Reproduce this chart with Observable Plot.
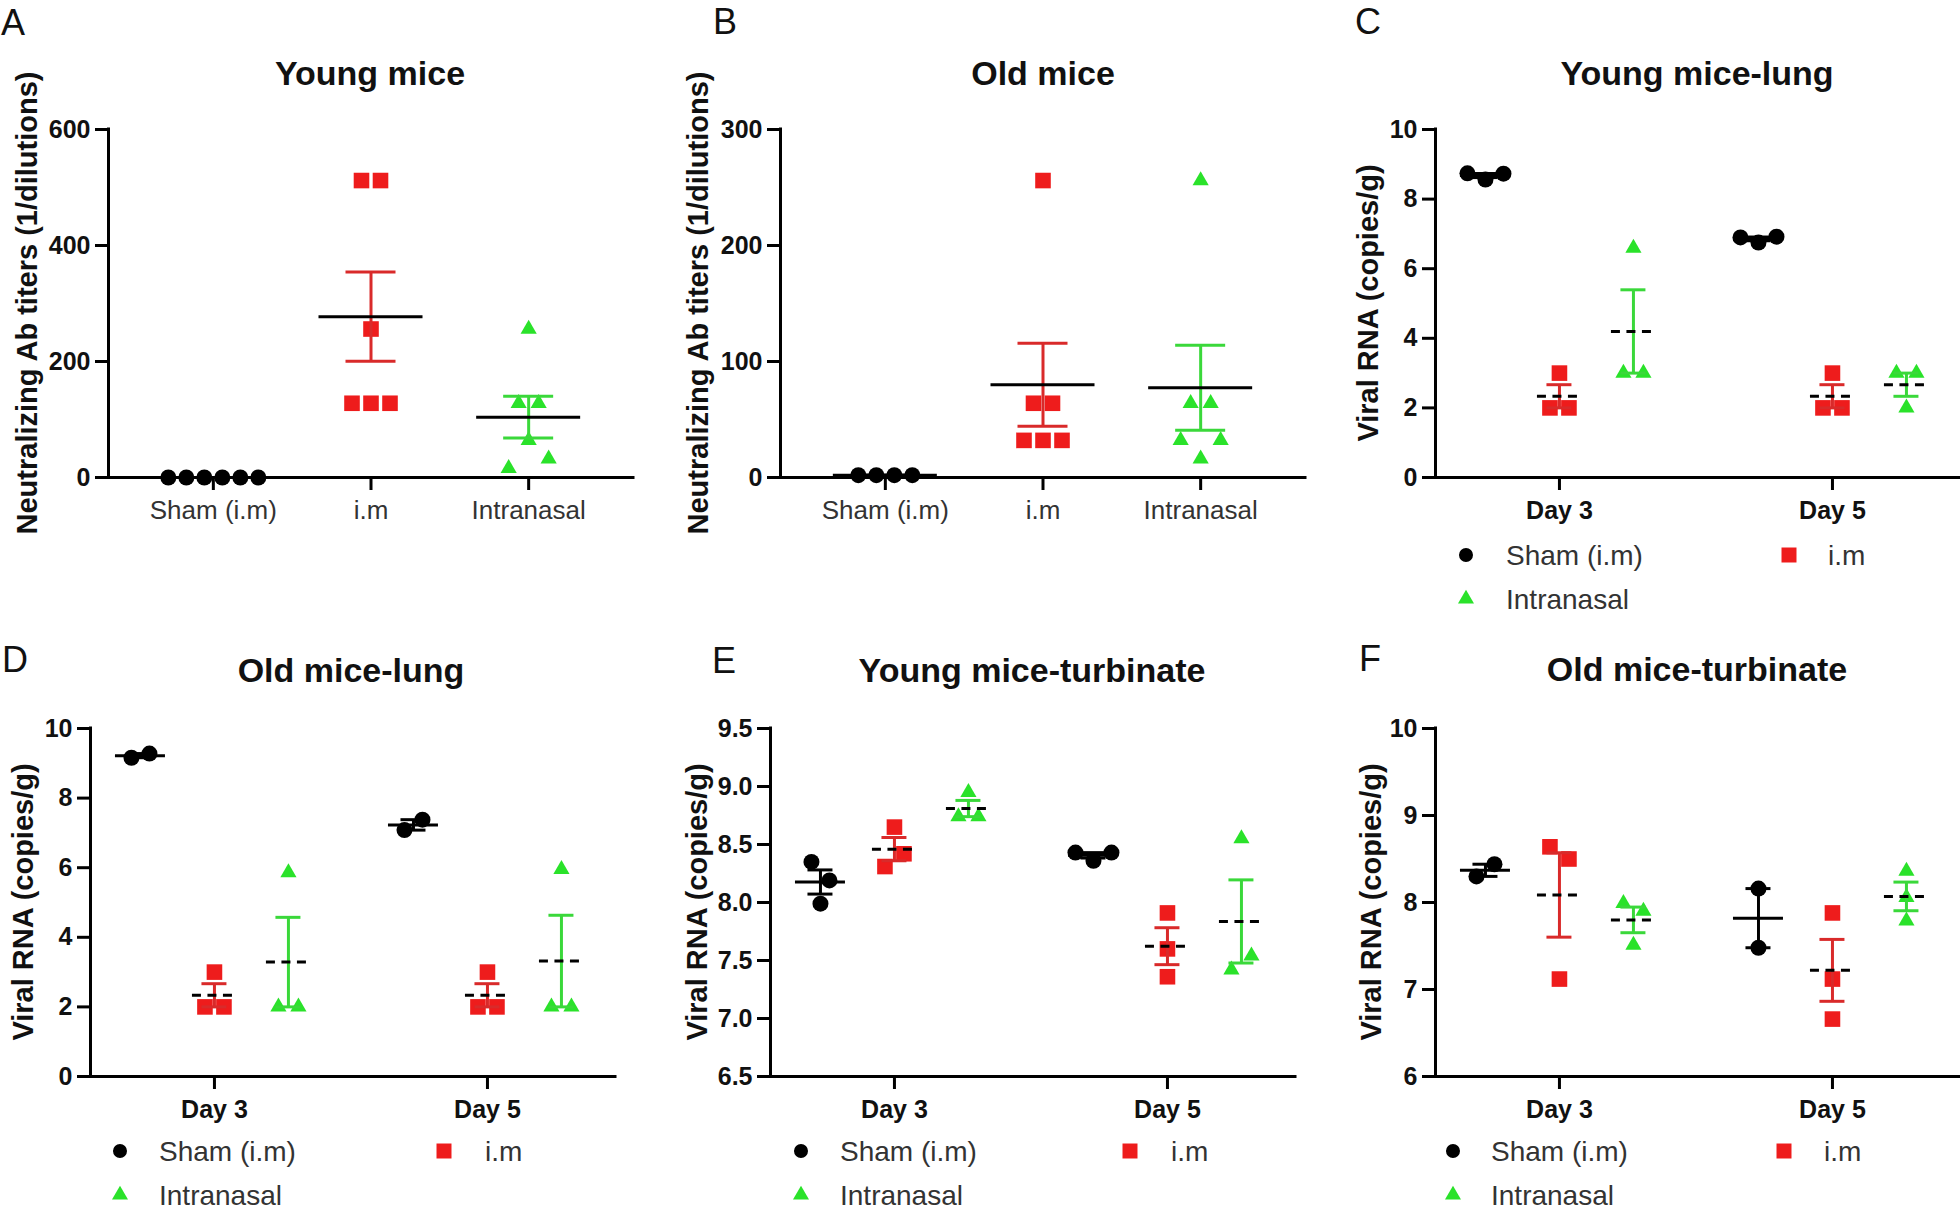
<!DOCTYPE html>
<html><head><meta charset="utf-8">
<script src="https://cdn.jsdelivr.net/npm/d3@7"></script>
<script src="https://cdn.jsdelivr.net/npm/@observablehq/plot@0.6"></script>
<style>
body{margin:0;background:#fff;}
#root{position:relative;width:1960px;height:1212px;overflow:hidden;background:#fff;font-family:"Liberation Sans",Arial,sans-serif;}
#root svg.panel{position:absolute;}
</style></head><body><div id="root"></div>
<script>
// ---------- categories / tick labels ----------
const groupNames = ["Sham (i.m)", "i.m", "Intranasal"];
const dayNames = ["Day 3", "Day 5"];
const titerTicksYoung = [0, 200, 400, 600];
const titerTicksOld = [0, 100, 200, 300];
const lungTicks = [0, 2, 4, 6, 8, 10];
const youngTurbTicks = [6.5, 7.0, 7.5, 8.0, 8.5, 9.0, 9.5];
const oldTurbTicks = [6, 7, 8, 9, 10];

// ---------- A: young mice, neutralizing Ab titers ----------
const youngTiterSham = [0, 0, 0, 0, 0, 0];
const youngTiterIm = [512, 512, 256, 128, 128, 128];
const youngTiterIn = [256, 128, 128, 16, 64, 32];
// ---------- B: old mice ----------
const oldTiterSham = [2, 2, 2, 2];
const oldTiterIm = [256, 64, 64, 32, 32, 32];
const oldTiterIn = [256, 64, 64, 32, 16, 32];
// ---------- C: young mice lung (Day 3, Day 5) ----------
const youngLungSham = [[8.74, 8.56, 8.73], [6.90, 6.75, 6.92]];
const youngLungIm = [[3.0, 2.0, 2.0], [3.0, 2.0, 2.0]];
const youngLungIn = [[6.59, 3.0, 3.0], [3.0, 2.0, 3.0]];
// ---------- D: old mice lung ----------
const oldLungSham = [[9.16, 9.28], [7.08, 7.38]];
const oldLungIm = [[3.0, 2.0, 2.0], [3.0, 2.0, 2.0]];
const oldLungIn = [[5.86, 2.0, 2.0], [5.95, 2.0, 2.0]];
// ---------- E: young mice turbinate ----------
const youngTurbSham = [[8.35, 8.19, 7.99], [8.43, 8.36, 8.43]];
const youngTurbIm = [[8.65, 8.31, 8.42], [7.91, 7.60, 7.36]];
const youngTurbIn = [[8.95, 8.74, 8.74], [8.55, 7.42, 7.54]];
// ---------- F: old mice turbinate ----------
const oldTurbSham = [[8.30, 8.44], [8.16, 7.48]];
const oldTurbIm = [[8.64, 8.50, 7.12], [7.88, 7.12, 6.66]];
const oldTurbIn = [[7.99, 7.90, 7.51], [8.36, 8.06, 7.79]];

// ---------- styles ----------
const FONT = '"Liberation Sans", Arial, Helvetica, sans-serif';
const RED = "#ee1c1c", RED_BAR = "#d92a2a", GREEN = "#2ae22a", GREEN_BAR = "#3ad83a";
const styles = {
  sham: {symbol: "circle", r: 8, fill: "#000", bar: "#000", spacing: 18},
  im: {symbol: "square", r: 8.8, fill: RED, bar: RED_BAR, spacing: 19},
  in: {symbol: "triangle", r: 6.0, fill: GREEN, bar: GREEN_BAR, spacing: 20}
};
const keys = ["sham", "im", "in"];

// simple row-based scatter spreading (GraphPad-like)
function swarm(values, pxY, thr, d) {
  const idx = values.map((v, i) => i).sort((a, b) => values[b] - values[a] || a - b);
  const rows = []; let cur = [idx[0]];
  for (let k = 1; k < idx.length; k++) {
    if ((values[idx[k - 1]] - values[idx[k]]) * pxY < thr) cur.push(idx[k]);
    else { rows.push(cur); cur = [idx[k]]; }
  }
  rows.push(cur);
  const off = new Array(values.length).fill(0);
  for (const r of rows) { r.sort((a, b) => a - b); r.forEach((i, j) => off[i] = (j - (r.length - 1) / 2) * d); }
  return off;
}

const W = 525, H = 348, mL = 85, mR = 0, mT = 20, mB = 62;
const root = document.getElementById("root");

function buildPanel(cfg) {
  const pxX = W / (cfg.xDomain[1] - cfg.xDomain[0]);
  const pxY = H / (cfg.yDomain[1] - cfg.yDomain[0]);
  const pts = [], sums = [];
  for (const s of cfg.series) {
    const st = styles[s.key];
    const offs = swarm(s.values, pxY, 19, st.spacing);
    s.values.forEach((v, i) => pts.push({key: s.key, x: s.center + offs[i] / pxX, y: v}));
    const m = d3.mean(s.values);
    const se = d3.deviation(s.values) / Math.sqrt(s.values.length);
    sums.push({
      key: s.key, center: s.center, mean: m, lo: m - se, hi: m + se, bar: st.bar,
      dashed: cfg.dayPanel && s.key !== "sham",
      meanHalf: (cfg.dayPanel ? (s.key === "sham" ? 25 : 22) : 52) / pxX,
      capHalf: (cfg.dayPanel ? 12.5 : 25) / pxX
    });
  }
  const plot = Plot.plot({
    width: mL + W + mR, height: mT + H + mB,
    marginLeft: mL, marginRight: mR, marginTop: mT, marginBottom: mB,
    x: {domain: cfg.xDomain},
    y: {domain: cfg.yDomain},
    color: {type: "identity"},
    style: {background: "transparent", fontFamily: FONT, color: "#000", overflow: "visible"},
    marks: [
      Plot.axisY({ticks: cfg.yTicks, tickFormat: cfg.yFormat, tickSize: 13, tickPadding: 5,
        fontSize: 25, fontWeight: "bold", stroke: "#000", fill: "#111", strokeWidth: 3, label: null}),
      Plot.axisX({ticks: cfg.xTicks, tickFormat: i => cfg.xLabels[i], tickSize: 13, tickPadding: cfg.dayPanel ? 11 : 10,
        fontSize: cfg.dayPanel ? 25 : 26, fontWeight: cfg.dayPanel ? "bold" : "normal",
        stroke: "#000", fill: cfg.dayPanel ? "#111" : "#333", strokeWidth: 3, label: null}),
      Plot.ruleY([cfg.yDomain[0]], {x1: cfg.xDomain[0], x2: cfg.xDomain[1], stroke: "#000", strokeWidth: 3, strokeLinecap: "square"}),
      Plot.ruleX([cfg.xDomain[0]], {y1: cfg.yDomain[0], y2: cfg.yDomain[1], stroke: "#000", strokeWidth: 3, strokeLinecap: "square"}),
      ...keys.map(k => Plot.dot(pts.filter(p => p.key === k), {
        x: "x", y: "y", symbol: styles[k].symbol, r: styles[k].r, fill: styles[k].fill, stroke: "none"})),
      Plot.ruleX(sums, {x: "center", y1: "lo", y2: "hi", stroke: "bar", strokeWidth: 3}),
      Plot.ruleY(sums, {y: "hi", x1: d => d.center - d.capHalf, x2: d => d.center + d.capHalf, stroke: "bar", strokeWidth: 3}),
      Plot.ruleY(sums, {y: "lo", x1: d => d.center - d.capHalf, x2: d => d.center + d.capHalf, stroke: "bar", strokeWidth: 3}),
      Plot.ruleY(sums.filter(d => !d.dashed), {y: "mean", x1: d => d.center - d.meanHalf, x2: d => d.center + d.meanHalf, stroke: "#000", strokeWidth: 3}),
      Plot.ruleY(sums.filter(d => d.dashed), {y: "mean", x1: d => d.center - d.meanHalf, x2: d => d.center + d.meanHalf, stroke: "#000", strokeWidth: 3, strokeDasharray: "9,6.5"})
    ]
  });
  plot.classList.add("panel");
  plot.style.left = (cfg.left - mL) + "px";
  plot.style.top = (cfg.top - mT) + "px";
  root.appendChild(plot);
}

function titerSeries(sham, im, inn) {
  return [sham, im, inn].map((v, i) => ({key: keys[i], center: i, values: v}));
}
function daySeries(sham, im, inn) {
  const out = [];
  [sham, im, inn].forEach((arr, g) => arr.forEach((v, d) => out.push({key: keys[g], center: d + (g - 1) * 0.271, values: v})));
  return out;
}
const catDomain = [-0.665, 2.665], dayDomain = [-0.454, 1.469];
const intFmt = d3.format("d"), oneFmt = d3.format(".1f");

buildPanel({left: 108, top: 129, xDomain: catDomain, yDomain: [0, 600], yTicks: titerTicksYoung, yFormat: intFmt,
  xTicks: [0, 1, 2], xLabels: groupNames, dayPanel: false, series: titerSeries(youngTiterSham, youngTiterIm, youngTiterIn)});
buildPanel({left: 780, top: 129, xDomain: catDomain, yDomain: [0, 300], yTicks: titerTicksOld, yFormat: intFmt,
  xTicks: [0, 1, 2], xLabels: groupNames, dayPanel: false, series: titerSeries(oldTiterSham, oldTiterIm, oldTiterIn)});
buildPanel({left: 1435, top: 129, xDomain: dayDomain, yDomain: [0, 10], yTicks: lungTicks, yFormat: intFmt,
  xTicks: [0, 1], xLabels: dayNames, dayPanel: true, series: daySeries(youngLungSham, youngLungIm, youngLungIn)});
buildPanel({left: 90, top: 728, xDomain: dayDomain, yDomain: [0, 10], yTicks: lungTicks, yFormat: intFmt,
  xTicks: [0, 1], xLabels: dayNames, dayPanel: true, series: daySeries(oldLungSham, oldLungIm, oldLungIn)});
buildPanel({left: 770, top: 728, xDomain: dayDomain, yDomain: [6.5, 9.5], yTicks: youngTurbTicks, yFormat: oneFmt,
  xTicks: [0, 1], xLabels: dayNames, dayPanel: true, series: daySeries(youngTurbSham, youngTurbIm, youngTurbIn)});
buildPanel({left: 1435, top: 728, xDomain: dayDomain, yDomain: [6, 10], yTicks: oldTurbTicks, yFormat: intFmt,
  xTicks: [0, 1], xLabels: dayNames, dayPanel: true, series: daySeries(oldTurbSham, oldTurbIm, oldTurbIn)});

// ---------- annotations: panel letters, titles, y labels, legends ----------
const ov = d3.select(root).append("svg").attr("width", 1960).attr("height", 1212)
  .style("position", "absolute").style("left", 0).style("top", 0).style("font-family", FONT);

const letters = [["A", 1, 35], ["B", 713, 34], ["C", 1355, 34], ["D", 2, 672], ["E", 712, 673], ["F", 1359, 671]];
letters.forEach(([t, x, y]) => ov.append("text").attr("x", x).attr("y", y).attr("font-size", 36).attr("fill", "#111").text(t));

const titles = [["Young mice", 370, 85], ["Old mice", 1043, 85], ["Young mice-lung", 1697, 85],
  ["Old mice-lung", 351, 682], ["Young mice-turbinate", 1032, 682], ["Old mice-turbinate", 1697, 681]];
titles.forEach(([t, x, y]) => ov.append("text").attr("x", x).attr("y", y).attr("text-anchor", "middle")
  .attr("font-size", 34).attr("font-weight", "bold").attr("fill", "#111").text(t));

const ylabels = [["Neutralizing Ab titers (1/dilutions)", 37, 303], ["Neutralizing Ab titers (1/dilutions)", 708, 303],
  ["Viral RNA (copies/g)", 1378, 303], ["Viral RNA (copies/g)", 33, 902], ["Viral RNA (copies/g)", 707, 902], ["Viral RNA (copies/g)", 1381, 902]];
ylabels.forEach(([t, x, y]) => ov.append("text").attr("transform", `translate(${x},${y}) rotate(-90)`)
  .attr("text-anchor", "middle").attr("font-size", 29).attr("font-weight", "bold").attr("fill", "#111").text(t));

const legends = [[1466, 1506, 1789, 1828, 555, 599], [120, 159, 444, 485, 1151, 1195],
  [801, 840, 1130, 1171, 1151, 1195], [1453, 1491, 1784, 1824, 1151, 1195]];
const legSym = [[d3.symbolCircle, 154, "#000"], [d3.symbolSquare, 225, RED], [d3.symbolTriangle, 111, GREEN]];
legends.forEach(([mx, tx, mx2, tx2, y1, y2]) => {
  const items = [[mx, tx, y1, 0], [mx2, tx2, y1, 1], [mx, tx, y2, 2]];
  items.forEach(([x, t, y, g]) => {
    ov.append("path").attr("transform", `translate(${x},${y})`)
      .attr("d", d3.symbol().type(legSym[g][0]).size(legSym[g][1])()).attr("fill", legSym[g][2]);
    ov.append("text").attr("x", t).attr("y", y + 10).attr("font-size", 28).attr("fill", "#333").text(groupNames[g]);
  });
});
</script></body></html>
